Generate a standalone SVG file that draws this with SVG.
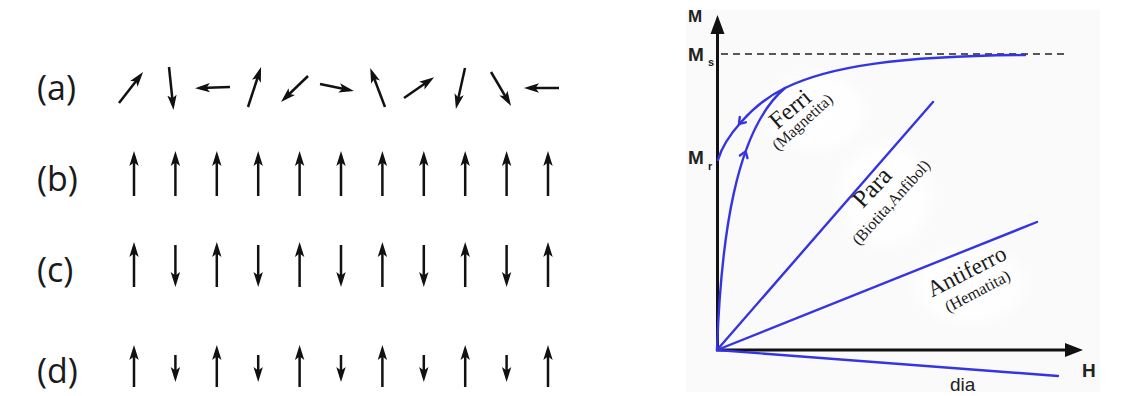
<svg xmlns="http://www.w3.org/2000/svg" width="1142" height="396" viewBox="0 0 1142 396">
  <style>
    .lbl { font-family: "Open Sans", "DejaVu Sans", sans-serif; font-size: 34px; fill: #1a1a1a; }
    .sp { stroke: #111; stroke-width: 2.5; fill: none; marker-end: url(#ah); }
    .ax { stroke: #111; stroke-width: 3; fill: none; }
    .bl { stroke: #3434e2; stroke-width: 2.4; fill: none; stroke-linecap: round; }
    .axl { font-family: "Liberation Sans", Arial, sans-serif; font-weight: bold; fill: #222; }
    .ser { font-family: "Liberation Serif", "Times New Roman", serif; fill: #1a1a1a; text-anchor: middle; }
  </style>
  <defs>
    <marker id="ah" markerUnits="userSpaceOnUse" markerWidth="15" markerHeight="10" viewBox="0 0 15 10" refX="10" refY="5" orient="auto">
      <path d="M0,0.3 L15,5 L0,9.7 L3.5,5 z" fill="#111"/>
    </marker>
    <radialGradient id="blob">
      <stop offset="0" stop-color="#ffffff" stop-opacity="1"/>
      <stop offset="0.7" stop-color="#ffffff" stop-opacity="0.8"/>
      <stop offset="1" stop-color="#ffffff" stop-opacity="0"/>
    </radialGradient>
  </defs>
  <rect width="1142" height="396" fill="#ffffff"/>

  <!-- Left panel: spin arrangements -->
  <g id="row-a">
    <text class="lbl" x="37" y="100">(a)</text>
    <line class="sp" x1="119" y1="103" x2="140" y2="76"/>
    <line class="sp" x1="169" y1="67" x2="173" y2="105"/>
    <line class="sp" x1="230" y1="87" x2="200" y2="88"/>
    <line class="sp" x1="248" y1="107" x2="259.5" y2="71.8"/>
    <line class="sp" x1="308" y1="76" x2="284.6" y2="98.5"/>
    <line class="sp" x1="320" y1="84" x2="349" y2="90"/>
    <line class="sp" x1="385" y1="107" x2="372" y2="72.7"/>
    <line class="sp" x1="404" y1="98" x2="430" y2="80"/>
    <line class="sp" x1="465" y1="68" x2="457" y2="104"/>
    <line class="sp" x1="491" y1="72" x2="508.5" y2="101.7"/>
    <line class="sp" x1="559" y1="88" x2="529" y2="88"/>
  </g>
  <g id="row-b">
    <text class="lbl" x="37" y="191">(b)</text>
    <line class="sp" x1="134" y1="196" x2="134" y2="156"/>
    <line class="sp" x1="175.4" y1="196" x2="175.4" y2="156"/>
    <line class="sp" x1="216.8" y1="196" x2="216.8" y2="156"/>
    <line class="sp" x1="258.2" y1="196" x2="258.2" y2="156"/>
    <line class="sp" x1="299.6" y1="196" x2="299.6" y2="156"/>
    <line class="sp" x1="341" y1="196" x2="341" y2="156"/>
    <line class="sp" x1="382.4" y1="196" x2="382.4" y2="156"/>
    <line class="sp" x1="423.8" y1="196" x2="423.8" y2="156"/>
    <line class="sp" x1="465.2" y1="196" x2="465.2" y2="156"/>
    <line class="sp" x1="506.6" y1="196" x2="506.6" y2="156"/>
    <line class="sp" x1="548" y1="196" x2="548" y2="156"/>
  </g>
  <g id="row-c">
    <text class="lbl" x="37" y="282">(c)</text>
    <line class="sp" x1="134" y1="287" x2="134" y2="247"/>
    <line class="sp" x1="175.4" y1="245" x2="175.4" y2="282"/>
    <line class="sp" x1="216.8" y1="287" x2="216.8" y2="247"/>
    <line class="sp" x1="258.2" y1="245" x2="258.2" y2="282"/>
    <line class="sp" x1="299.6" y1="287" x2="299.6" y2="247"/>
    <line class="sp" x1="341" y1="245" x2="341" y2="282"/>
    <line class="sp" x1="382.4" y1="287" x2="382.4" y2="247"/>
    <line class="sp" x1="423.8" y1="245" x2="423.8" y2="282"/>
    <line class="sp" x1="465.2" y1="287" x2="465.2" y2="247"/>
    <line class="sp" x1="506.6" y1="245" x2="506.6" y2="282"/>
    <line class="sp" x1="548" y1="287" x2="548" y2="247"/>
  </g>
  <g id="row-d">
    <text class="lbl" x="37" y="383">(d)</text>
    <line class="sp" x1="134" y1="387" x2="134" y2="350"/>
    <line class="sp" x1="175.4" y1="355" x2="175.4" y2="377"/>
    <line class="sp" x1="216.8" y1="387" x2="216.8" y2="350"/>
    <line class="sp" x1="258.2" y1="355" x2="258.2" y2="377"/>
    <line class="sp" x1="299.6" y1="387" x2="299.6" y2="350"/>
    <line class="sp" x1="341" y1="355" x2="341" y2="377"/>
    <line class="sp" x1="382.4" y1="387" x2="382.4" y2="350"/>
    <line class="sp" x1="423.8" y1="355" x2="423.8" y2="377"/>
    <line class="sp" x1="465.2" y1="387" x2="465.2" y2="350"/>
    <line class="sp" x1="506.6" y1="355" x2="506.6" y2="377"/>
    <line class="sp" x1="548" y1="387" x2="548" y2="350"/>
  </g>

  <!-- Right panel: M vs H -->
  <g id="panel-bg">
    <rect x="686" y="10" width="414" height="382" fill="#fafafa"/>
    <ellipse cx="815" cy="112" rx="60" ry="45" fill="url(#blob)"/>
    <ellipse cx="885" cy="195" rx="55" ry="60" fill="url(#blob)"/>
    <ellipse cx="970" cy="285" rx="65" ry="45" fill="url(#blob)"/>
  </g>
  <g id="axes">
    <line class="ax" x1="717.5" y1="351" x2="717.5" y2="32"/>
    <path d="M717.5,15 L724.5,34 L710.5,34 z" fill="#111"/>
    <line class="ax" x1="716" y1="350" x2="1068" y2="350"/>
    <path d="M1083,350 L1065,343 L1065,357 z" fill="#111"/>
    <line x1="721" y1="54" x2="1068" y2="54" stroke="#222" stroke-width="1.5" stroke-dasharray="7,5"/>
  </g>
  <g id="axis-labels">
    <text class="axl" x="688" y="22" font-size="17">M</text>
    <text class="axl" x="688" y="61" font-size="19">M</text>
    <text class="axl" x="708" y="66" font-size="11">s</text>
    <text class="axl" x="688" y="164" font-size="19">M</text>
    <text class="axl" x="708" y="170" font-size="11">r</text>
    <text class="axl" x="1082" y="377" font-size="19">H</text>
  </g>
  <g id="curves">
    <path class="bl" d="M717,349 C721,240 735,130 785,88 C830,66 900,56 1025,55"/>
    <path class="bl" d="M718,160 C724,138 752,104 785,88"/>
    <path class="bl" d="M745.8,122.3 L739,124 L739.8,117" stroke-width="1.8"/>
    <path class="bl" d="M747.5,158.1 L745.6,151.4 L739.9,155.5" stroke-width="1.8"/>
    <line class="bl" x1="717" y1="350" x2="933" y2="102"/>
    <line class="bl" x1="717" y1="350" x2="1037" y2="222"/>
    <line class="bl" x1="717" y1="350" x2="1058" y2="376"/>
  </g>
  <g id="curve-labels">
    <text class="ser" font-size="24" transform="translate(795,115) rotate(-40)">Ferri</text>
    <text class="ser" font-size="16" transform="translate(806,126) rotate(-42)">(Magnetita)</text>
    <text class="ser" font-size="25" transform="translate(878,193) rotate(-47)">Para</text>
    <text class="ser" font-size="16" transform="translate(895,206) rotate(-48)">(Biotita,Anfibol)</text>
    <text class="ser" font-size="23" transform="translate(970,278) rotate(-27)">Antiferro</text>
    <text class="ser" font-size="16.5" transform="translate(980,296) rotate(-28)">(Hematita)</text>
    <text x="950" y="391" font-family="Liberation Sans, Arial, sans-serif" font-size="19" fill="#222">dia</text>
  </g>
</svg>
